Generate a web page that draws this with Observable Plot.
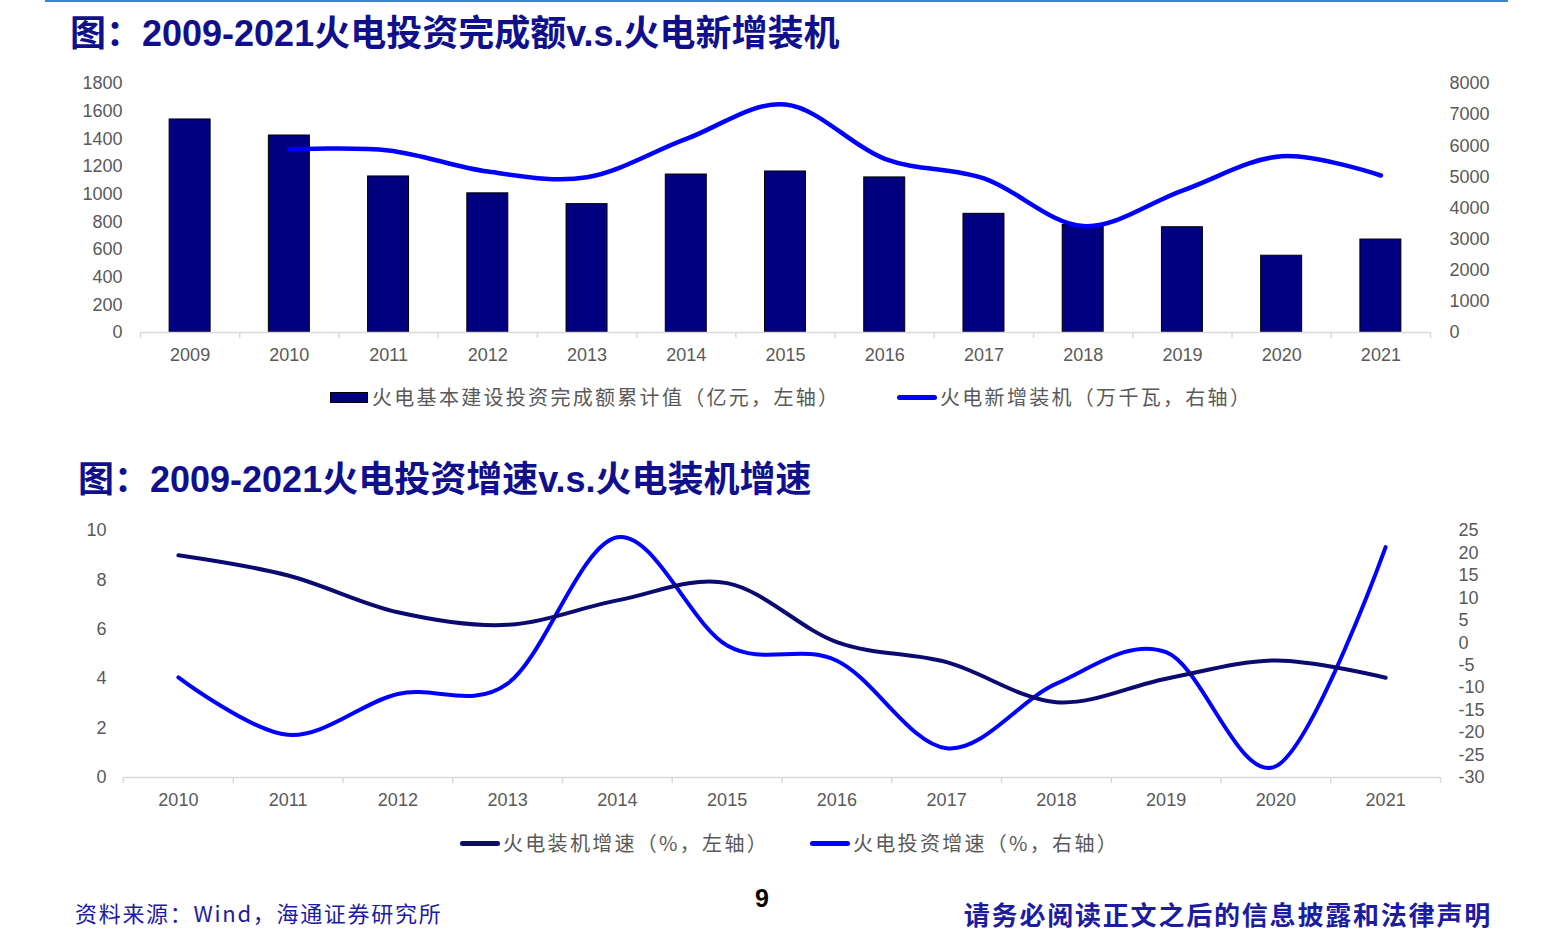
<!DOCTYPE html>
<html>
<head>
<meta charset="utf-8">
<script src="https://cdn.jsdelivr.net/npm/d3@7"></script>
<script src="https://cdn.jsdelivr.net/npm/@observablehq/plot@0.6"></script>
<style>
  html, body { margin: 0; padding: 0; background: #fff; }
  #page { position: relative; width: 1560px; height: 944px; overflow: hidden; background: #fff; }
  .abs { position: absolute; white-space: nowrap; }
  .title { font: bold 36px "Liberation Sans", Arial, "Noto Sans CJK SC", sans-serif; color: #10108c; line-height: 40px; }
  .legend { font: 20px "Noto Sans CJK SC", sans-serif; color: #595959; line-height: 24px; letter-spacing: 2.3px; }
  .chart { position: absolute; left: 0; }
</style>
</head>
<body>
<div id="page">
  <div class="abs" style="left:45px;top:0;width:1463px;height:2px;background:#3f7fd4;"></div>
  <div class="abs title" style="left:70px;top:14px;">图：2009-2021火电投资完成额v.s.火电新增装机</div>
  <div id="c1" class="chart" style="top:70px;"></div>
  <div class="abs legend" style="left:330px;top:385px;">
    <span style="display:inline-block;width:36px;height:9px;background:#000080;border:1px solid #000;vertical-align:middle;margin-right:4px;position:relative;top:-2px;"></span>火电基本建设投资完成额累计值（亿元，左轴）
  </div>
  <div class="abs legend" style="left:897px;top:385px;">
    <span style="display:inline-block;width:40px;height:5px;border-radius:3px;background:#0000ff;vertical-align:middle;margin-right:3px;position:relative;top:-2px;"></span>火电新增装机（万千瓦，右轴）
  </div>

  <div class="abs title" style="left:78px;top:460px;">图：2009-2021火电投资增速v.s.火电装机增速</div>
  <div id="c2" class="chart" style="top:515px;"></div>
  <div class="abs legend" style="left:460px;top:831px;">
    <span style="display:inline-block;width:40px;height:5px;border-radius:3px;background:#0a0a70;vertical-align:middle;margin-right:3px;position:relative;top:-2px;"></span>火电装机增速（%，左轴）
  </div>
  <div class="abs legend" style="left:810px;top:831px;">
    <span style="display:inline-block;width:40px;height:5px;border-radius:3px;background:#0000ff;vertical-align:middle;margin-right:3px;position:relative;top:-2px;"></span>火电投资增速（%，右轴）
  </div>

  <div class="abs" style="left:75px;top:898px;font:22px 'Noto Sans CJK SC',sans-serif;color:#1c1ca0;line-height:28px;letter-spacing:1.7px;">资料来源：Wind，海通证券研究所</div>
  <div class="abs" style="left:755px;top:884px;font:bold 25px 'Liberation Sans',Arial,sans-serif;color:#000;line-height:28px;">9</div>
  <div class="abs" style="right:68px;top:898px;font:bold 26px 'Noto Sans CJK SC',sans-serif;color:#1c1ca0;line-height:32px;letter-spacing:1.8px;">请务必阅读正文之后的信息披露和法律声明</div>
</div>
<script>
// ---------- Data ----------
const years1 = ["2009","2010","2011","2012","2013","2014","2015","2016","2017","2018","2019","2020","2021"];
const investDone = [1540, 1424, 1128, 1006, 928, 1142, 1164, 1121, 858, 777, 761, 555, 672]; // 亿元, left axis
const capYears = ["2010","2011","2012","2013","2014","2015","2016","2017","2018","2019","2020","2021"];
const newCapacity = [5880, 5850, 5170, 4990, 6220, 7325, 5580, 4950, 3420, 4560, 5665, 5044]; // 万千瓦, right axis
const leftTicks1 = [0, 200, 400, 600, 800, 1000, 1200, 1400, 1600, 1800];
const rightTicks1 = [0, 1000, 2000, 3000, 4000, 5000, 6000, 7000, 8000];

const years2 = ["2010","2011","2012","2013","2014","2015","2016","2017","2018","2019","2020","2021"];
const capGrowth = [9.0, 8.18, 6.69, 6.18, 7.17, 7.87, 5.48, 4.67, 3.05, 4.0, 4.74, 4.04];   // %, left axis
const investGrowth = [-7.7, -20.5, -11.4, -9.1, 23.5, -0.6, -4.0, -23.5, -9.1, -2.1, -27.5, 21.3]; // %, right axis
const leftTicks2 = [0, 2, 4, 6, 8, 10];
const rightTicks2 = [-30, -25, -20, -15, -10, -5, 0, 5, 10, 15, 20, 25];

const axisFont = {fontFamily: "'Liberation Sans', Arial, sans-serif", fontSize: "18px", color: "#595959", background: "white", overflow: "visible"};
const gridGray = "#d9d9d9";
const plain = d => String(Math.round(d));

// ---------- Chart 1 ----------
{
  const W = 1560, H = 300, ml = 140, mr = 130, mt = 13, mb = 38;
  const step = (W - ml - mr) / years1.length;
  const k = leftTicks1.at(-1) / rightTicks1.at(-1); // right -> left mapping
  const bars = years1.map((y, i) => ({year: y, v: investDone[i]}));
  const line = capYears.map((y, i) => ({year: y, v: newCapacity[i] * k}));
  const pad = 0.587;
  const chart = Plot.plot({
    width: W, height: H, marginLeft: ml, marginRight: mr, marginTop: mt, marginBottom: mb,
    style: axisFont,
    x: {type: "band", domain: years1, paddingInner: pad, paddingOuter: pad / 2, round: false},
    y: {domain: [0, leftTicks1.at(-1)]},
    marks: [
      Plot.axisY({anchor: "left", ticks: leftTicks1, tickFormat: plain, tickSize: 0, tickPadding: 18, label: null}),
      Plot.axisY(rightTicks1.map(t => t * k), {anchor: "right", tickFormat: d => plain(d / k), tickSize: 0, tickPadding: 19, label: null}),
      Plot.axisX({tickSize: 0, tickPadding: 16, label: null}),
      Plot.barY(bars, {x: "year", y: "v", fill: "#000080", stroke: "#000", strokeWidth: 1}),
      Plot.ruleY([0], {stroke: gridGray, strokeWidth: 1.5}),
      Plot.ruleX(years1, {x: d => d, dx: -step / 2, stroke: gridGray, strokeWidth: 1.5, insetTop: H - mt - mb, insetBottom: -6}),
      Plot.ruleX([years1.at(-1)], {x: d => d, dx: step / 2, stroke: gridGray, strokeWidth: 1.5, insetTop: H - mt - mb, insetBottom: -6}),
      Plot.line(line, {x: "year", y: "v", stroke: "#0000ff", strokeWidth: 4.5, curve: "cardinal", strokeLinecap: "round"})
    ]
  });
  document.getElementById("c1").appendChild(chart);
}

// ---------- Chart 2 ----------
{
  const W = 1560, H = 300, ml = 123, mr = 120, mt = 15, mb = 38;
  const step = (W - ml - mr) / years2.length;
  const lMin = leftTicks2[0], lMax = leftTicks2.at(-1);
  const rMin = rightTicks2[0], rMax = rightTicks2.at(-1);
  const toLeft = v => lMin + (v - rMin) * (lMax - lMin) / (rMax - rMin);
  const fromLeft = d => plain(rMin + (d - lMin) * (rMax - rMin) / (lMax - lMin));
  const dark = years2.map((y, i) => ({year: y, v: capGrowth[i]}));
  const blue = years2.map((y, i) => ({year: y, v: toLeft(investGrowth[i])}));
  const chart = Plot.plot({
    width: W, height: H, marginLeft: ml, marginRight: mr, marginTop: mt, marginBottom: mb,
    style: axisFont,
    x: {type: "band", domain: years2, padding: 0, round: false},
    y: {domain: [lMin, lMax]},
    marks: [
      Plot.axisY({anchor: "left", ticks: leftTicks2, tickFormat: plain, tickSize: 0, tickPadding: 17, label: null}),
      Plot.axisY(rightTicks2.map(toLeft), {anchor: "right", tickFormat: fromLeft, tickSize: 0, tickPadding: 18, label: null}),
      Plot.axisX({tickSize: 0, tickPadding: 16, label: null}),
      Plot.ruleY([0], {stroke: gridGray, strokeWidth: 1.5}),
      Plot.ruleX(years2, {x: d => d, dx: -step / 2, stroke: gridGray, strokeWidth: 1.5, insetTop: H - mt - mb, insetBottom: -6}),
      Plot.ruleX([years2.at(-1)], {x: d => d, dx: step / 2, stroke: gridGray, strokeWidth: 1.5, insetTop: H - mt - mb, insetBottom: -6}),
      Plot.line(blue, {x: "year", y: "v", stroke: "#0000ff", strokeWidth: 4, curve: "cardinal", strokeLinecap: "round"}),
      Plot.line(dark, {x: "year", y: "v", stroke: "#0a0a70", strokeWidth: 4, curve: "cardinal", strokeLinecap: "round"})
    ]
  });
  document.getElementById("c2").appendChild(chart);
}
</script>
</body>
</html>
